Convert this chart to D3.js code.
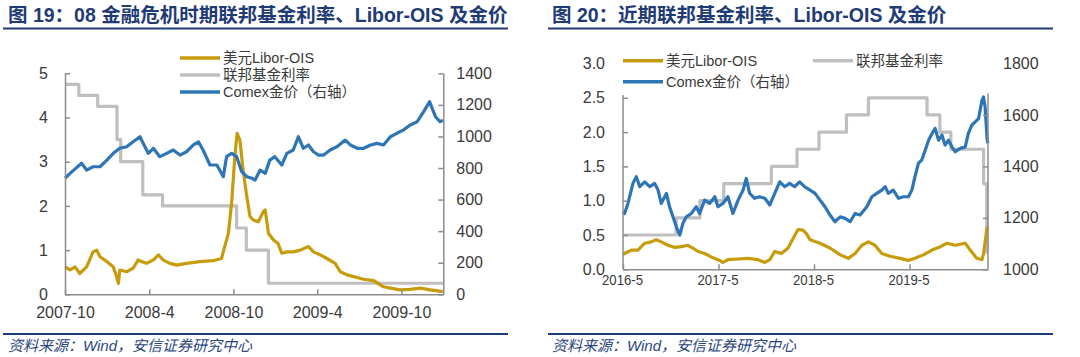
<!DOCTYPE html>
<html><head><meta charset="utf-8">
<script src="https://cdn.jsdelivr.net/npm/d3@7"></script>
<style>
body{margin:0;background:#fff;}
svg text{font-family:"Liberation Sans",Arial,"Noto Sans CJK SC",sans-serif;}
</style></head><body>
<svg id="c" width="1080" height="357"></svg>
<script>
// ---------- data: chart 19 (2007-10 .. 2009-12) ----------
const liborOis0809 = [
["2007-10-01",0.62],["2007-10-12",0.55],["2007-10-23",0.62],["2007-11-02",0.47],["2007-11-17",0.62],
["2007-12-01",0.96],["2007-12-09",1.0],["2007-12-16",0.85],["2007-12-31",0.74],["2008-01-14",0.62],
["2008-01-21",0.40],["2008-01-25",0.25],["2008-01-28",0.55],["2008-02-12",0.51],["2008-02-26",0.59],
["2008-03-08",0.78],["2008-03-15",0.74],["2008-03-26",0.70],["2008-04-10",0.78],["2008-04-21",0.89],
["2008-05-01",0.78],["2008-05-16",0.70],["2008-05-31",0.66],["2008-06-21",0.70],["2008-07-20",0.74],
["2008-08-18",0.76],["2008-09-05",0.81],["2008-09-12",1.08],["2008-09-20",1.38],["2008-09-27",2.06],
["2008-10-04",3.11],["2008-10-09",3.64],["2008-10-15",3.49],["2008-10-22",2.81],["2008-10-30",2.21],
["2008-11-06",1.76],["2008-11-13",1.68],["2008-11-24",1.64],["2008-12-05",1.87],["2008-12-09",1.91],
["2008-12-16",1.38],["2008-12-27",1.23],["2009-01-06",1.15],["2009-01-14",0.93],["2009-01-25",0.96],
["2009-02-08",0.96],["2009-02-23",1.0],["2009-03-13",1.08],["2009-03-24",0.96],["2009-04-08",0.89],
["2009-04-22",0.81],["2009-05-10",0.70],["2009-05-21",0.51],["2009-06-05",0.44],["2009-06-19",0.40],
["2009-07-11",0.34],["2009-08-02",0.31],["2009-08-23",0.17],["2009-09-07",0.14],["2009-09-28",0.10],
["2009-10-20",0.11],["2009-11-11",0.14],["2009-12-03",0.10],["2009-12-30",0.06]
];
const fedRate0809 = [
["2007-10-01",4.75],["2007-10-31",4.5],["2007-12-11",4.25],["2008-01-22",3.5],["2008-01-30",3.0],
["2008-03-18",2.25],["2008-04-30",2.0],["2008-10-08",1.5],["2008-10-29",1.0],["2008-12-16",0.25],
["2009-12-31",0.25]
];
const gold0809 = [
["2007-10-01",735],["2007-10-12",766],["2007-11-06",830],["2007-11-17",787],["2007-12-01",808],
["2007-12-16",808],["2007-12-31",850],["2008-01-14",893],["2008-01-28",925],["2008-02-12",935],
["2008-02-26",966],["2008-03-12",998],["2008-03-19",956],["2008-03-30",893],["2008-04-10",925],
["2008-04-24",872],["2008-05-09",893],["2008-05-23",914],["2008-06-07",882],["2008-06-21",903],
["2008-07-06",946],["2008-07-17",966],["2008-07-27",914],["2008-08-11",819],["2008-08-26",819],
["2008-09-09",745],["2008-09-16",872],["2008-09-27",893],["2008-10-08",872],["2008-10-19",777],
["2008-10-30",745],["2008-11-10",735],["2008-11-17",724],["2008-11-28",787],["2008-12-09",766],
["2008-12-19",850],["2008-12-30",872],["2009-01-14",819],["2009-01-25",893],["2009-02-08",914],
["2009-02-19",998],["2009-03-02",925],["2009-03-13",946],["2009-03-24",903],["2009-04-04",882],
["2009-04-15",882],["2009-04-29",914],["2009-05-14",935],["2009-06-01",977],["2009-06-12",946],
["2009-06-27",925],["2009-07-11",925],["2009-07-26",946],["2009-08-09",956],["2009-08-23",946],
["2009-09-07",998],["2009-09-21",1020],["2009-10-05",1040],["2009-10-20",1072],["2009-11-04",1093],
["2009-11-18",1156],["2009-12-01",1220],["2009-12-14",1125],["2009-12-24",1093],["2009-12-30",1104]
];
const ticksA = ["2007-10-01","2008-04-01","2008-10-01","2009-04-01","2009-10-01"];
const tickLabelsA = ["2007-10","2008-4","2008-10","2009-4","2009-10"];
const leftTicksA = [0,1,2,3,4,5];
const rightTicksA = [0,200,400,600,800,1000,1200,1400];

// ---------- data: chart 20 (2016-5 .. 2020-3) ----------
const liborOisRecent = [
["2016-05-25",0.22],["2016-05-31",0.23],["2016-06-26",0.28],["2016-07-21",0.28],["2016-08-16",0.38],
["2016-09-10",0.40],["2016-09-29",0.43],["2016-10-18",0.40],["2016-11-13",0.35],["2016-12-09",0.32],
["2017-01-03",0.33],["2017-01-28",0.35],["2017-02-16",0.31],["2017-03-08",0.26],["2017-04-02",0.23],
["2017-04-27",0.18],["2017-05-23",0.14],["2017-06-11",0.10],["2017-06-30",0.14],["2017-08-08",0.15],
["2017-09-15",0.16],["2017-10-23",0.14],["2017-11-18",0.10],["2017-12-07",0.14],["2017-12-26",0.26],
["2018-01-20",0.23],["2018-02-15",0.31],["2018-03-06",0.45],["2018-03-25",0.58],["2018-04-13",0.57],
["2018-04-26",0.52],["2018-05-10",0.43],["2018-06-17",0.38],["2018-07-25",0.31],["2018-09-02",0.21],
["2018-10-03",0.16],["2018-10-29",0.23],["2018-11-24",0.35],["2018-12-19",0.40],["2019-01-13",0.35],
["2019-02-08",0.23],["2019-03-12",0.19],["2019-04-19",0.16],["2019-05-21",0.13],["2019-06-15",0.16],
["2019-07-17",0.21],["2019-08-19",0.28],["2019-09-20",0.33],["2019-10-15",0.38],["2019-11-16",0.35],
["2019-12-24",0.38],["2020-01-12",0.28],["2020-02-06",0.16],["2020-02-26",0.14],["2020-03-03",0.23],
["2020-03-09",0.40],["2020-03-16",0.60],["2020-03-19",0.57]
];
const fedRateRecent = [
["2016-05-25",0.5],["2016-12-14",0.75],["2017-03-15",1.0],["2017-06-14",1.25],["2017-12-13",1.5],
["2018-03-21",1.75],["2018-06-13",2.0],["2018-09-26",2.25],["2018-12-19",2.5],["2019-07-31",2.25],
["2019-09-18",2.0],["2019-10-30",1.75],["2020-03-03",1.25],["2020-03-15",0.25],["2020-03-19",0.25]
];
const goldRecent = [
["2016-05-25",1225],["2016-05-31",1217],["2016-06-13",1256],["2016-07-02",1334],["2016-07-15",1360],
["2016-07-28",1321],["2016-08-16",1340],["2016-09-04",1321],["2016-09-23",1334],["2016-10-06",1308],
["2016-10-18",1256],["2016-11-07",1295],["2016-11-19",1243],["2016-12-02",1204],["2016-12-15",1165],
["2016-12-28",1133],["2017-01-09",1179],["2017-01-22",1204],["2017-02-10",1217],["2017-03-01",1243],
["2017-03-14",1217],["2017-04-02",1269],["2017-04-21",1256],["2017-05-11",1282],["2017-05-23",1243],
["2017-06-11",1256],["2017-06-30",1282],["2017-07-19",1217],["2017-08-08",1269],["2017-08-27",1308],
["2017-09-08",1353],["2017-09-21",1295],["2017-10-10",1276],["2017-10-29",1282],["2017-11-18",1276],
["2017-12-07",1250],["2017-12-26",1295],["2018-01-14",1340],["2018-02-02",1321],["2018-02-21",1334],
["2018-03-12",1321],["2018-03-31",1340],["2018-04-20",1320],["2018-05-10",1308],["2018-05-29",1295],
["2018-06-17",1269],["2018-07-06",1243],["2018-07-25",1211],["2018-08-13",1185],["2018-09-02",1204],
["2018-09-21",1198],["2018-10-10",1185],["2018-10-29",1217],["2018-11-17",1211],["2018-12-13",1243],
["2019-01-01",1282],["2019-01-20",1295],["2019-02-08",1308],["2019-02-21",1321],["2019-03-05",1295],
["2019-03-24",1308],["2019-04-13",1276],["2019-05-02",1282],["2019-05-21",1282],["2019-06-03",1308],
["2019-06-15",1360],["2019-06-28",1412],["2019-07-11",1425],["2019-07-24",1463],["2019-08-06",1502],
["2019-08-19",1528],["2019-08-31",1548],["2019-09-13",1502],["2019-09-26",1522],["2019-10-08",1483],
["2019-10-21",1502],["2019-11-03",1476],["2019-11-16",1457],["2019-12-05",1470],["2019-12-24",1476],
["2020-01-05",1528],["2020-01-18",1560],["2020-01-31",1573],["2020-02-13",1586],["2020-02-26",1657],
["2020-03-03",1670],["2020-03-09",1631],["2020-03-16",1515],["2020-03-19",1490]
];
const ticksB = ["2016-05-25","2017-05-25","2018-05-25","2019-05-25"];
const tickLabelsB = ["2016-5","2017-5","2018-5","2019-5"];
const leftTicksB = [0,0.5,1.0,1.5,2.0,2.5,3.0];
const rightTicksB = [1000,1200,1400,1600,1800];

// ---------- styles ----------
const C_GOLD = "#C79C0C", C_GREY = "#BFBFBF", C_BLUE = "#2E75B6";
const C_NAVY = "#1F3B76", C_AXIS = "#8C8C8C", C_TEXT = "#3A3A3A";
const parse = d3.utcParse("%Y-%m-%d");
const svg = d3.select("#c");

function header(x0, x1, tx, text){
  svg.append("text").attr("x",tx).attr("y",22).attr("fill",C_NAVY)
    .attr("font-size",19.5).attr("font-weight","bold").text(text);
  svg.append("line").attr("x1",x0).attr("x2",x1).attr("y1",28.5).attr("y2",28.5)
    .attr("stroke",C_NAVY).attr("stroke-width",2.2);
  svg.append("line").attr("x1",x0).attr("x2",x1).attr("y1",334).attr("y2",334)
    .attr("stroke",C_NAVY).attr("stroke-width",2.2);
  svg.append("text").attr("x",tx).attr("y",351).attr("fill","#2B4680")
    .attr("font-size",15).attr("font-style","italic").text("资料来源：Wind，安信证券研究中心");
}
header(3,508,8,"图 19：08 金融危机时期联邦基金利率、Libor-OIS 及金价");
header(548,1053,552,"图 20：近期联邦基金利率、Libor-OIS 及金价");

function styleAxis(g){
  g.selectAll("path.domain").attr("stroke",C_AXIS).attr("stroke-width",1.5);
  g.selectAll(".tick line").attr("stroke",C_AXIS).attr("stroke-width",1.5);
  g.selectAll(".tick text").attr("fill",C_TEXT).attr("font-size",16)
    .attr("font-family","'Liberation Sans',Arial,sans-serif");
}

function series(g, data, x, y, color, step){
  const line = d3.line().x(d=>x(parse(d[0]))).y(d=>y(d[1]));
  if(step) line.curve(d3.curveStepAfter);
  g.append("path").datum(data).attr("d",line).attr("fill","none")
    .attr("stroke",color).attr("stroke-width",3.2).attr("stroke-linejoin","round");
}

function legendItem(x, y, color, text){
  svg.append("line").attr("x1",x).attr("x2",x+40).attr("y1",y).attr("y2",y)
    .attr("stroke",color).attr("stroke-width",3.5);
  svg.append("text").attr("x",x+43).attr("y",y).attr("dy","0.35em").attr("fill",C_TEXT)
    .attr("font-size",14.5).text(text);
}

// ---------- chart A ----------
{
  const xA = d3.scaleUtc().domain([parse("2007-10-01"), parse("2009-12-31")]).range([65,443.3]);
  const yL = d3.scaleLinear().domain([0,5]).range([294.3,73.3]);
  const yR = d3.scaleLinear().domain([0,1400]).range([294.3,73.3]);
  const g = svg.append("g");
  series(g, fedRate0809, xA, yL, C_GREY, true);
  series(g, liborOis0809, xA, yL, C_GOLD, false);
  series(g, gold0809, xA, yR, C_BLUE, false);

  const ax = svg.append("g").attr("transform","translate(0,294.3)")
    .call(d3.axisBottom(xA).tickValues(ticksA.map(parse)).tickFormat((d,i)=>tickLabelsA[i])
      .tickSize(-5).tickSizeOuter(0).tickPadding(12.5));
  styleAxis(ax);
  const al = svg.append("g").attr("transform","translate(65,0)")
    .call(d3.axisLeft(yL).tickValues(leftTicksA).tickFormat(d3.format("d"))
      .tickSize(-5).tickSizeOuter(0).tickPadding(17));
  styleAxis(al);
  const ar = svg.append("g").attr("transform","translate(443.3,0)")
    .call(d3.axisRight(yR).tickValues(rightTicksA).tickFormat(d3.format("d"))
      .tickSize(-5).tickSizeOuter(0).tickPadding(13));
  styleAxis(ar);

  legendItem(180,58,C_GOLD,"美元Libor-OIS");
  legendItem(180,75,C_GREY,"联邦基金利率");
  legendItem(180,92,C_BLUE,"Comex金价（右轴）");
}

// ---------- chart B ----------
{
  const xB = d3.scaleUtc().domain([parse("2016-05-25"), parse("2020-03-20")]).range([623,988]);
  const yL = d3.scaleLinear().domain([0,3]).range([269.3,63.5]);
  const yR = d3.scaleLinear().domain([1000,1800]).range([269.3,63.5]);
  const g = svg.append("g");
  series(g, fedRateRecent, xB, yL, C_GREY, true);
  series(g, liborOisRecent, xB, yL, C_GOLD, false);
  series(g, goldRecent, xB, yR, C_BLUE, false);

  const ax = svg.append("g").attr("transform","translate(0,269.3)")
    .call(d3.axisBottom(xB).tickValues(ticksB.map(parse)).tickFormat((d,i)=>tickLabelsB[i])
      .tickSize(-5).tickSizeOuter(0).tickPadding(5));
  styleAxis(ax);
  ax.selectAll(".tick text").attr("font-size",15).attr("textLength",41)
    .attr("lengthAdjust","spacingAndGlyphs").attr("dx",-1);
  const topY = yL(2.54);
  const al = svg.append("g").attr("transform","translate(623,0)")
    .call(d3.axisLeft(yL).tickValues(leftTicksB).tickFormat(d3.format(".1f"))
      .tickSize(-5).tickSizeOuter(0).tickPadding(18));
  styleAxis(al);
  al.select("path.domain").attr("d",`M0,${topY}V${yL(0)}`);
  al.selectAll(".tick").filter(d=>d===3).select("line").remove();
  const ar = svg.append("g").attr("transform","translate(988,0)")
    .call(d3.axisRight(yR).tickValues(rightTicksB).tickFormat(d3.format("d"))
      .tickSize(-5).tickSizeOuter(0).tickPadding(15));
  styleAxis(ar);
  ar.select("path.domain").attr("d",`M0,${topY-1.5}V${yR(1000)}`);
  ar.selectAll(".tick").filter(d=>d===1800).select("line").remove();

  legendItem(623,60.7,C_GOLD,"美元Libor-OIS");
  legendItem(623,81.7,C_BLUE,"Comex金价（右轴）");
  legendItem(813,60.7,C_GREY,"联邦基金利率");
}
</script>
</body></html>
